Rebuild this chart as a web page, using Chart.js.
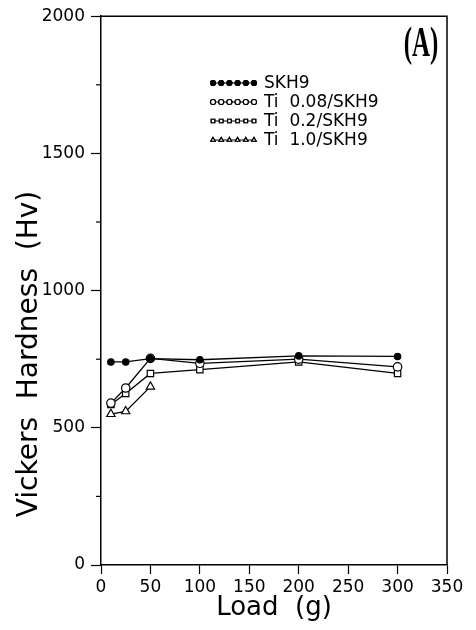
<!DOCTYPE html>
<html>
<head>
<meta charset="utf-8">
<script src="https://cdn.jsdelivr.net/npm/chart.js@4.4.1/dist/chart.umd.min.js"></script>
<style>
html,body{margin:0;padding:0;background:#fff;}
#wrap{width:476px;height:630px;}
</style>
</head>
<body>
<div id="wrap"><canvas id="c" width="476" height="630"></canvas></div>
<script>
// ---- data ----
const loads = [10, 25, 50, 100, 200, 300];
const skh9  = [740, 740, 752, 748, 762, 760];
const ti008 = [590, 645, 753, 735, 750, 722];
const ti02  = [585, 625, 698, 712, 740, 698];
const ti10  = [550, 560, 650, null, null, null];
const seriesLabels = ['SKH9', 'Ti  0.08/SKH9', 'Ti  0.2/SKH9', 'Ti  1.0/SKH9'];
const xTicks = [0, 50, 100, 150, 200, 250, 300, 350];
const yTicks = [0, 500, 1000, 1500, 2000];
const yMinor = [250, 750, 1250, 1750];
const xTitle = 'Load  (g)';
const yTitle = 'Vickers  Hardness  (Hv)';
const panelLabel = '(A)';

const FONT = '"DejaVu Sans", sans-serif';
const styles = [
  {pointStyle:'circle', fill:'#000', r:3.2},
  {pointStyle:'circle', fill:'#fff', r:4.2},
  {pointStyle:'rect', fill:'#fff', r:4.5},
  {pointStyle:'triangle', fill:'#fff', r:4.8}
];
const seriesData = [skh9, ti008, ti02, ti10];

const datasets = seriesData.map((arr, i) => ({
  label: seriesLabels[i],
  data: loads.map((x, j) => ({x: x, y: arr[j]})).filter(p => p.y !== null),
  borderColor: '#000',
  borderWidth: 1.3,
  pointStyle: styles[i].pointStyle,
  pointRadius: styles[i].r,
  pointBackgroundColor: styles[i].fill,
  pointBorderColor: '#000',
  pointBorderWidth: 1.2,
  tension: 0,
  fill: false
}));

const decor = {
  id: 'decor',
  afterDraw(chart) {
    const ctx = chart.ctx;
    const a = chart.chartArea;
    const ys = chart.scales.y;
    ctx.save();
    // frame top/right
    ctx.strokeStyle = '#000';
    ctx.lineWidth = 1.5;
    ctx.beginPath();
    ctx.moveTo(a.left, a.top);
    ctx.lineTo(a.right, a.top);
    ctx.lineTo(a.right, a.bottom);
    ctx.stroke();
    // minor y ticks
    ctx.lineWidth = 1.2;
    yMinor.forEach(v => {
      const py = ys.getPixelForValue(v);
      ctx.beginPath();
      ctx.moveTo(a.left - 5, py);
      ctx.lineTo(a.left, py);
      ctx.stroke();
    });
    // axis titles
    ctx.fillStyle = '#000';
    ctx.font = '26px ' + FONT;
    ctx.textAlign = 'center';
    ctx.textBaseline = 'middle';
    ctx.fillText(xTitle, 274, 608);
    ctx.save();
    ctx.translate(30, 354);
    ctx.rotate(-Math.PI / 2);
    ctx.font = '28px ' + FONT;
    ctx.fillText(yTitle, 0, 0);
    ctx.restore();
    // panel label
    ctx.save();
    ctx.translate(421, 45);
    ctx.scale(0.78, 1.3);
    ctx.font = 'bold 32px "Liberation Serif", serif';
    ctx.fillText(panelLabel, 0, 0);
    ctx.restore();
    // legend
    const lx0 = 213, lx1 = 254, rows = [83, 102, 121, 140];
    ctx.font = '17px ' + FONT;
    ctx.textAlign = 'left';
    chart.data.datasets.forEach((ds, i) => {
      const y = rows[i];
      ctx.lineWidth = 1.2;
      ctx.strokeStyle = '#000';
      ctx.beginPath();
      ctx.moveTo(lx0, y);
      ctx.lineTo(lx1, y);
      ctx.stroke();
      for (let k = 0; k < 6; k++) {
        const px = lx0 + k * (lx1 - lx0) / 5;
        Chart.helpers.drawPoint(ctx, {
          pointStyle: ds.pointStyle, radius: 2.5, rotation: 0, borderWidth: 1
        }, px, y);
        ctx.fillStyle = styles[i].fill;
        ctx.fill();
        ctx.stroke();
      }
      ctx.fillStyle = '#000';
      ctx.fillText(ds.label, 264, y + 1);
    });
    ctx.restore();
  }
};

new Chart(document.getElementById('c'), {
  type: 'line',
  data: {datasets: datasets},
  options: {
    responsive: false,
    animation: false,
    devicePixelRatio: 1,
    layout: {padding: {top: 13, right: 29, left: 0, bottom: 0}},
    plugins: {legend: {display: false}, tooltip: {enabled: false}},
    scales: {
      x: {
        type: 'linear', min: 0, max: 350,
        afterBuildTicks: s => { s.ticks = xTicks.map(v => ({value: v})); },
        afterFit: s => { s.height = 65; },
        grid: {drawOnChartArea: false, drawTicks: true, tickLength: 9, color: '#000', tickWidth: 1.2},
        border: {display: true, color: '#000', width: 1.5},
        ticks: {color: '#000', font: {family: FONT, size: 17}, padding: 3, maxRotation: 0, autoSkip: false,
                callback: v => String(v)}
      },
      y: {
        type: 'linear', min: 0, max: 2000,
        afterBuildTicks: s => { s.ticks = yTicks.map(v => ({value: v})); },
        afterFit: s => { s.width = 101; },
        grid: {drawOnChartArea: false, drawTicks: true, tickLength: 10, color: '#000', tickWidth: 1.2},
        border: {display: true, color: '#000', width: 1.5},
        ticks: {color: '#000', font: {family: FONT, size: 17}, padding: 6, autoSkip: false,
                callback: v => String(v)}
      }
    }
  },
  plugins: [decor]
});
</script>
</body>
</html>
